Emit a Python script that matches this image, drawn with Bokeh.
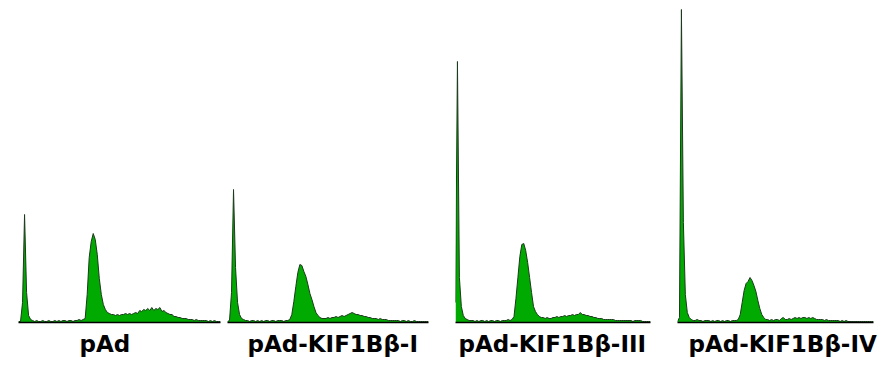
from bokeh.plotting import figure
from bokeh.layouts import row
from bokeh.models import Range1d, FixedTicker, Title
from bokeh.embed import file_html
from bokeh.resources import INLINE

# DNA-content channel (shared by all four samples)
channels = list(range(0, 201, 2))

labels = ["pAd", "pAd-KIF1Bβ-I", "pAd-KIF1Bβ-III", "pAd-KIF1Bβ-IV"]

counts_pad = [1, 1, 20, 108, 30, 7, 3, 2, 1, 2,
              1, 1, 2, 1, 1, 2, 1, 1, 2, 1,
              2, 1, 2, 2, 1, 2, 2, 1, 2, 2,
              3, 2, 3, 4, 28, 65, 81, 89, 83, 68,
              44, 28, 18, 13, 10, 9, 8, 8, 7, 8,
              7, 8, 8, 9, 8, 9, 8, 9, 10, 9,
              12, 11, 13, 12, 14, 12, 15, 12, 14, 13,
              15, 11, 12, 10, 9, 8, 8, 6, 6, 5,
              5, 4, 4, 4, 3, 3, 3, 2, 3, 2,
              2, 2, 2, 2, 1, 2, 1, 2, 1, 1,
              1]

counts_kif_i = [1, 2, 30, 133, 55, 20, 8, 4, 3, 2,
                2, 1, 2, 2, 1, 2, 1, 2, 1, 2,
                2, 1, 2, 2, 1, 2, 2, 2, 1, 2,
                2, 3, 8, 21, 36, 50, 58, 57, 51, 46,
                38, 29, 23, 16, 10, 7, 5, 4, 4, 4,
                5, 4, 5, 5, 6, 5, 6, 7, 6, 7,
                8, 9, 10, 9, 8, 8, 7, 7, 6, 6,
                5, 5, 4, 4, 4, 3, 4, 3, 3, 3,
                2, 2, 2, 2, 2, 2, 1, 2, 2, 1,
                2, 1, 1, 2, 1, 1, 1, 1, 1, 1,
                1]

counts_kif_iii = [20, 261, 45, 16, 7, 4, 3, 2, 2, 2,
                  1, 2, 1, 2, 2, 1, 2, 1, 2, 2,
                  1, 2, 2, 1, 2, 2, 2, 3, 2, 3,
                  6, 24, 45, 66, 78, 79, 72, 60, 45, 30,
                  16, 11, 8, 6, 5, 5, 4, 5, 4, 4,
                  5, 5, 6, 5, 6, 6, 7, 6, 7, 7,
                  8, 7, 8, 8, 10, 8, 8, 7, 7, 6,
                  6, 5, 5, 4, 4, 4, 3, 3, 3, 3,
                  3, 3, 2, 2, 2, 2, 2, 2, 2, 2,
                  2, 1, 2, 2, 2, 2, 1, 1, 1, 1,
                  1]

counts_kif_iv = [1, 5, 313, 100, 28, 10, 5, 3, 2, 2,
                 3, 2, 2, 1, 2, 2, 2, 1, 2, 1,
                 2, 2, 1, 2, 1, 2, 2, 1, 2, 2,
                 2, 3, 8, 20, 32, 39, 41, 45, 42, 37,
                 31, 22, 14, 8, 5, 3, 3, 2, 3, 2,
                 3, 3, 2, 4, 5, 3, 3, 4, 3, 4,
                 5, 4, 5, 4, 5, 5, 4, 5, 4, 5,
                 4, 3, 3, 3, 3, 2, 3, 2, 2, 2,
                 2, 2, 2, 1, 2, 1, 2, 1, 1, 1,
                 1, 1, 1, 1, 1, 1, 1, 1, 1, 1,
                 1]

series = [counts_pad, counts_kif_i, counts_kif_iii, counts_kif_iv]

# layout (pixels)
frame_widths = [202, 201, 195, 196]
border_left = [18, 4, 14, 14]
border_right = [3, 13, 13, 5]
label_offsets = [61, 20, 3, 11]

FILL = "#00aa00"
EDGE = "#1c3a1c"

figs = []
for i in range(4):
    p = figure(width=border_left[i] + frame_widths[i] + border_right[i], height=365,
               x_range=Range1d(0, 200), y_range=Range1d(0, 314),
               output_backend="svg", toolbar_location=None,
               min_border_left=border_left[i], min_border_right=border_right[i],
               min_border_top=8, min_border_bottom=43)
    p.varea(x=channels, y1=0, y2=series[i], fill_color=FILL)
    p.line(channels, series[i], line_color=EDGE, line_width=1)
    p.yaxis.visible = False
    p.xgrid.visible = False
    p.ygrid.visible = False
    p.outline_line_color = None
    ax = p.xaxis[0]
    ax.ticker = FixedTicker(ticks=[])
    ax.major_tick_out = 0
    ax.major_tick_in = 0
    ax.minor_tick_out = 0
    ax.minor_tick_in = 0
    ax.major_label_text_font_size = "0px"
    ax.major_label_standoff = 0
    ax.axis_line_color = "#000000"
    ax.axis_line_width = 1.5
    t = Title(text=labels[i], align="left", offset=label_offsets[i],
              text_font="DejaVu Sans", text_font_size="23px",
              text_font_style="bold", text_color="#000000", standoff=12)
    p.add_layout(t, "below")
    figs.append(p)

layout = row(*figs)
open("out.html", "w").write(file_html(layout, INLINE))
